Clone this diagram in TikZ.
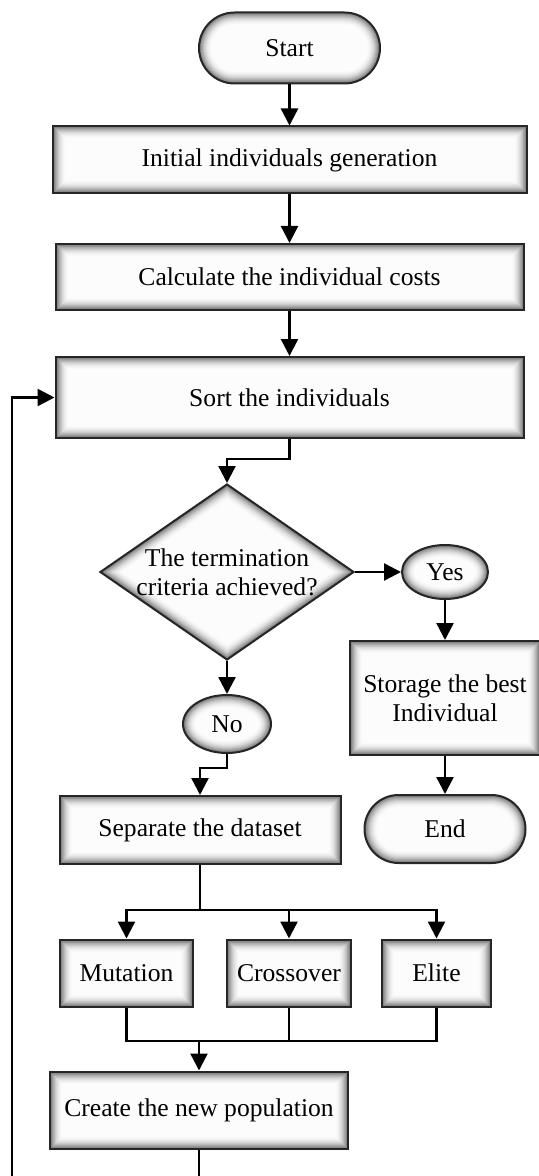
\documentclass[tikz,border=0pt]{standalone}
\usepackage{fontspec}
\setmainfont{Liberation Serif}
\usetikzlibrary{shapes.geometric,arrows.meta,calc}
\def\glowlist{0pt/55,0.5pt/47,1pt/40,1.5pt/33,2pt/27,2.5pt/21,3pt/16,3.5pt/12,4pt/9,4.5pt/6,5pt/4,5.5pt/2.5,6pt/1.2}
\tikzset{
  base/.style={draw=black!85, line width=1pt, align=center, inner sep=0pt,
    font=\fontsize{12.8}{14.5}\selectfont},
  box/.style={base, rectangle, minimum width=#1, path picture={
    \foreach \d/\g in \glowlist {\fill[black!\g] ([shift={(\d,\d)}]path picture bounding box.south west) rectangle ([shift={(-\d,-\d)}]path picture bounding box.north east);}}},
  term/.style={base, rectangle, rounded corners=#1, path picture={
    \foreach \d/\g in \glowlist {\fill[black!\g, rounded corners=#1-\d] ([shift={(\d,\d)}]path picture bounding box.south west) rectangle ([shift={(-\d,-\d)}]path picture bounding box.north east);}}},
  oval/.style={base, ellipse, path picture={
    \foreach \d/\g in \glowlist {\fill[black!\g] let \p1=(path picture bounding box.north east), \p2=(path picture bounding box.center) in (\p2) ellipse [x radius=\x1-\x2-\d, y radius=\y1-\y2-\d];}}},
  decision/.style={base, diamond, path picture={
    \foreach \d/\g in \glowlist {\fill[black!\g] let \p1=(path picture bounding box.north east), \p2=(path picture bounding box.center) in
      ({2*\x2-\x1+1.756*\d}, \y2) -- (\x2, {\y1-1.217*\d}) -- ({\x1-1.756*\d}, \y2) -- (\x2, {2*\y2-\y1+1.217*\d}) -- cycle;}}},
  arr/.style={line width=1.2pt, -{Triangle[width=8.5pt,length=8.5pt]}},
  ln/.style={line width=1.2pt},
}
\begin{document}
\begin{tikzpicture}[x=0.5pt,y=-0.5pt]
\useasboundingbox[fill=white] (0,0) rectangle (539,1176);
\node[term=17.75pt, minimum width=90.5pt, minimum height=35.5pt] (start) at (289.5,48) {Start};
\node[box=237pt, minimum height=33.5pt] (init) at (289.5,160) {Initial individuals generation};
\node[box=234pt, minimum height=33pt] (calc) at (289.5,277) {Calculate the individual costs};
\node[box=234pt, minimum height=40.5pt] (sort) at (289.5,397.5) {Sort the individuals};
\node[decision, minimum width=127pt, minimum height=88pt] (dia) at (227,572) {\makebox[0pt]{The termination}\\\makebox[0pt]{criteria achieved?}};
\node[oval, minimum width=43pt, minimum height=27pt] (yes) at (445,572) {Yes};
\node[box=95pt, minimum height=57pt] (store) at (445,698) {Storage the best\\Individual};
\node[term=17pt, minimum width=80.5pt, minimum height=34pt] (end) at (445,829) {End};
\node[oval, minimum width=44pt, minimum height=29pt] (no) at (227,724) {No};
\node[box=140.5pt, minimum height=34pt] (sep) at (200,830) {Separate the dataset};
\node[box=66.5pt, minimum height=33.5pt] (mut) at (126.5,973) {Mutation};
\node[box=62pt, minimum height=33.5pt] (cross) at (289,973) {Crossover};
\node[box=54.5pt, minimum height=33.5pt] (elite) at (436.5,973) {Elite};
\node[box=149pt, minimum height=38.5pt] (create) at (199,1110) {Create the new population};

\draw[arr] (start.south) -- (init.north);
\draw[arr] (init.south) -- (calc.north);
\draw[arr] (calc.south) -- (sort.north);
\draw[arr] (sort.south) -- ++(0,20) -| (dia.north);
\draw[arr] (dia.east) -- (yes.west);
\draw[arr] (yes.south) -- (store.north);
\draw[arr] (store.south) -- (end.north);
\draw[arr] (dia.south) -- (no.north);
\draw[arr] (no.south) -- ++(0,14) -| (sep.north);
\coordinate (split) at (200,910);
\draw[ln] (sep.south) -- (split);
\draw[arr] (split) -| (mut.north);
\draw[arr] (split) -| (elite.north);
\draw[arr] (cross.north |- split) -- (cross.north);
\coordinate (merge) at (199,1041);
\draw[ln] (mut.south) |- (merge);
\draw[ln] (elite.south) |- (merge);
\draw[ln] (cross.south) -- (cross.south |- merge);
\draw[arr] (merge) -- (create.north);
\coordinate (lb) at (12,1195);
\draw[arr] (create.south) |- (lb) |- (sort.west);
\end{tikzpicture}
\end{document}
